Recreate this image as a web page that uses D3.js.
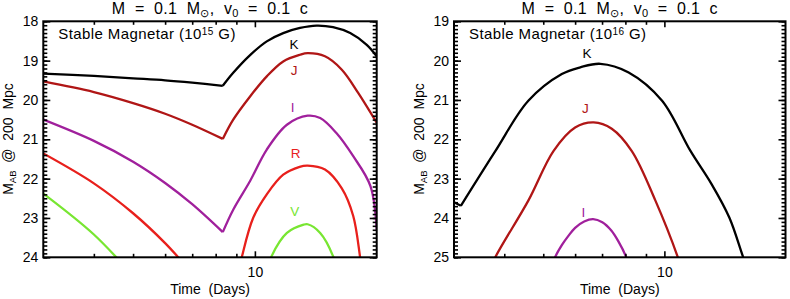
<!DOCTYPE html>
<html>
<head>
<meta charset="utf-8">
<script src="https://cdn.jsdelivr.net/npm/d3@7"></script>
<style>
  body { margin: 0; background: #fff; }
  svg text { font-family: "Liberation Sans", Arial, sans-serif; fill: #000; }
</style>
</head>
<body>
<svg id="chart" width="790" height="299"></svg>
<script>
// Kilonova light curves, [time in days, AB magnitude at 200 Mpc]
const bandNames = ["K", "J", "I", "R", "V"]
const bandColors = ["#000000", "#b01616", "#a0209c", "#e8201c", "#78e632"]

// 10^15 G magnetar
const k15 = [[3,19.33],[4,19.39],[5,19.45],[6,19.50],[7,19.56],[8.33,19.64],
  [8.84,19.31],[9.73,18.86],[10.7,18.51],[11.75,18.3],[12.93,18.17],[14.2,18.11],
  [15.6,18.15],[17.2,18.3],[18.9,18.6],[20,18.89]]
const j15 = [[3,19.53],[4,19.80],[5,20.08],[6,20.35],[7,20.63],[8.33,20.99],
  [8.84,20.5],[9.73,19.91],[10.7,19.4],[11.75,19.02],[12.93,18.85],[13.5,18.81],
  [14.9,18.89],[16.4,19.23],[18.0,19.82],[20,20.58]]
const i15 = [[3,20.5],[4,21.04],[5,21.57],[6,22.11],[7,22.65],[8.33,23.36],
  [8.84,22.79],[9.73,22.06],[10.7,21.26],[12.0,20.63],[13.5,20.4],[14.5,20.46],
  [15.9,20.84],[17.5,21.43],[19.3,22.19],[20,23.3]]
const r15 = [[3,21.36],[4,22.12],[5,22.88],[6,23.64],[7,24.4],
  [9.0,24.6],[9.28,24.0],[9.9,23.0],[10.7,22.4],[11.75,21.9],[12.9,21.7],[13.5,21.67],
  [14.9,21.77],[16.4,22.25],[17.5,22.95],[18.2,24.0],[18.5,24.5]]
const v15 = [[3,22.38],[4,23.42],[5,24.47],
  [10.6,24.5],[11.0,23.97],[12.0,23.38],[13.2,23.17],[13.5,23.16],[14.5,23.38],
  [15.6,23.97],[16.1,24.5]]
const labels15 = [[12.5,18.6],[12.5,19.26],[12.4,20.2],[12.6,21.36],[12.55,22.83]]

// 10^16 G magnetar
const k16 = [[3,23.6],[3.12,23.69],
  [3.80,22.3],[4.59,21.02],[5.56,20.34],[6.18,20.17],[6.93,20.08],[8.15,20.3],
  [9.87,21.02],[11.6,22.29],[13.1,23.14],[14.5,23.99],[15.7,25.0],[16.5,25.6]]
const j16 = [[3.7,25.3],[3.8,25.0],[4.59,23.56],[5.3,22.3],[6.0,21.7],[6.67,21.57],
  [7.4,21.73],[8.3,22.3],[9.5,23.56],[10.8,25.0],[11.1,25.4]]
const i16 = [[5.2,25.4],[5.35,25.0],[5.57,24.68],[5.78,24.45],[6.0,24.25],[6.32,24.09],
  [6.65,24.03],[7.01,24.11],[7.38,24.32],[7.68,24.59],[8.04,25.0],[8.2,25.3]]
const labels16 = [[6.42,19.82],[6.36,21.22],[6.29,23.86]]

const timeDomain = [3, 20]
const xMajorTicks = [10]
const xMinorTicks = [4, 5, 6, 7, 8, 9]

const svg = d3.select("#chart")
const plotTop = 21.3, plotBottom = 257.3

const panels = [
  { x0: 43.3, x1: 376.7, yDomain: [18, 24], exp: "15", kink: 8.33,
    curves: [k15, j15, i15, r15, v15], labels: labels15 },
  { x0: 454, x1: 785.5, yDomain: [19, 25], exp: "16", kink: 3.12,
    curves: [k16, j16, i16], labels: labels16 }
]

panels.forEach((p, n) => {
  const x = d3.scaleLog().domain(timeDomain).range([p.x0, p.x1])
  const y = d3.scaleLinear().domain(p.yDomain).range([plotTop, plotBottom])
  const g = svg.append("g")
  const mid = (p.x0 + p.x1) / 2

  g.append("clipPath").attr("id", "clip" + n)
    .append("rect").attr("x", p.x0).attr("y", plotTop)
    .attr("width", p.x1 - p.x0).attr("height", plotBottom - plotTop)

  // curves, split at the kink so the corner stays sharp
  const line = d3.line().x(d => x(d[0])).y(d => y(d[1])).curve(d3.curveCatmullRom.alpha(0.5))
  const plot = g.append("g").attr("clip-path", "url(#clip" + n + ")")
  p.curves.forEach((c, i) => {
    const segs = [c.filter(d => d[0] <= p.kink), c.filter(d => d[0] >= p.kink)]
    segs.forEach(s => {
      if (s.length < 2) return
      plot.append("path").attr("d", line(s))
        .attr("fill", "none").attr("stroke", bandColors[i])
        .attr("stroke-width", 2.3).attr("stroke-linejoin", "round")
    })
  })

  // band labels
  g.selectAll(".band").data(p.labels).enter().append("text")
    .attr("x", d => x(d[0])).attr("y", d => y(d[1]))
    .attr("text-anchor", "middle").attr("dominant-baseline", "central")
    .style("font-size", "13.5px")
    .style("fill", (d, i) => bandColors[i])
    .text((d, i) => bandNames[i])

  // axes: ticks point inward on all four sides
  const yMajor = d3.range(p.yDomain[0], p.yDomain[1] + 0.01, 1)
  const yMinor = d3.range(p.yDomain[0], p.yDomain[1] + 0.01, 0.1)
  const axes = [
    [d3.axisBottom(x).tickValues(xMajorTicks).tickSize(-6).tickPadding(10).tickFormat(d3.format("d")), plotBottom, null],
    [d3.axisBottom(x).tickValues(xMinorTicks).tickSize(-3.5).tickFormat(""), plotBottom, null],
    [d3.axisTop(x).tickValues(xMajorTicks).tickSize(-6).tickFormat(""), plotTop, null],
    [d3.axisTop(x).tickValues(xMinorTicks).tickSize(-3.5).tickFormat(""), plotTop, null],
    [d3.axisLeft(y).tickValues(yMajor).tickSize(-7).tickPadding(5).tickFormat(d3.format("d")), null, p.x0],
    [d3.axisLeft(y).tickValues(yMinor).tickSize(-4).tickFormat(""), null, p.x0],
    [d3.axisRight(y).tickValues(yMajor).tickSize(-7).tickFormat(""), null, p.x1],
    [d3.axisRight(y).tickValues(yMinor).tickSize(-4).tickFormat(""), null, p.x1]
  ]
  axes.forEach(a => {
    const ag = g.append("g")
      .attr("transform", a[1] !== null ? `translate(0,${a[1]})` : `translate(${a[2]},0)`)
      .call(a[0])
    ag.select(".domain").remove()
    ag.selectAll("line").attr("stroke", "#000").attr("stroke-width", 1.6)
    ag.selectAll("text").style("font-size", "14px").style("font-family", "Liberation Sans, Arial, sans-serif")
  })

  g.append("rect").attr("x", p.x0).attr("y", plotTop)
    .attr("width", p.x1 - p.x0).attr("height", plotBottom - plotTop)
    .attr("fill", "none").attr("stroke", "#000").attr("stroke-width", 2)

  // title
  const t = g.append("text").attr("x", mid).attr("y", 14)
    .attr("text-anchor", "middle").style("font-size", "16px")
    .style("letter-spacing", "0.3px").attr("xml:space", "preserve")
  t.append("tspan").text("M  =  0.1  M")
  t.append("tspan").attr("baseline-shift", "-25%").style("font-size", "11px").text("\u2299")
  t.append("tspan").text(",  v")
  t.append("tspan").attr("baseline-shift", "-25%").style("font-size", "11px").text("0")
  t.append("tspan").text("  =  0.1  c")

  // annotation
  const a = g.append("text").attr("x", p.x0 + 15).attr("y", 39)
    .style("font-size", "15px").style("letter-spacing", "0.4px").attr("xml:space", "preserve")
  a.append("tspan").text("Stable Magnetar (10")
  a.append("tspan").attr("baseline-shift", "40%").style("font-size", "10px").text(p.exp)
  a.append("tspan").text(" G)")

  // axis titles
  g.append("text").attr("x", mid).attr("y", 294)
    .attr("text-anchor", "middle").style("font-size", "14px")
    .attr("xml:space", "preserve").text("Time  (Days)")

  const yl = g.append("text")
    .attr("transform", `translate(${p.x0 - 30},139) rotate(-90)`)
    .attr("text-anchor", "middle").style("font-size", "14px")
    .attr("xml:space", "preserve")
  yl.append("tspan").text("M")
  yl.append("tspan").attr("baseline-shift", "-25%").style("font-size", "9.5px").text("AB")
  yl.append("tspan").text("  @  200  Mpc")
})
</script>
</body>
</html>
